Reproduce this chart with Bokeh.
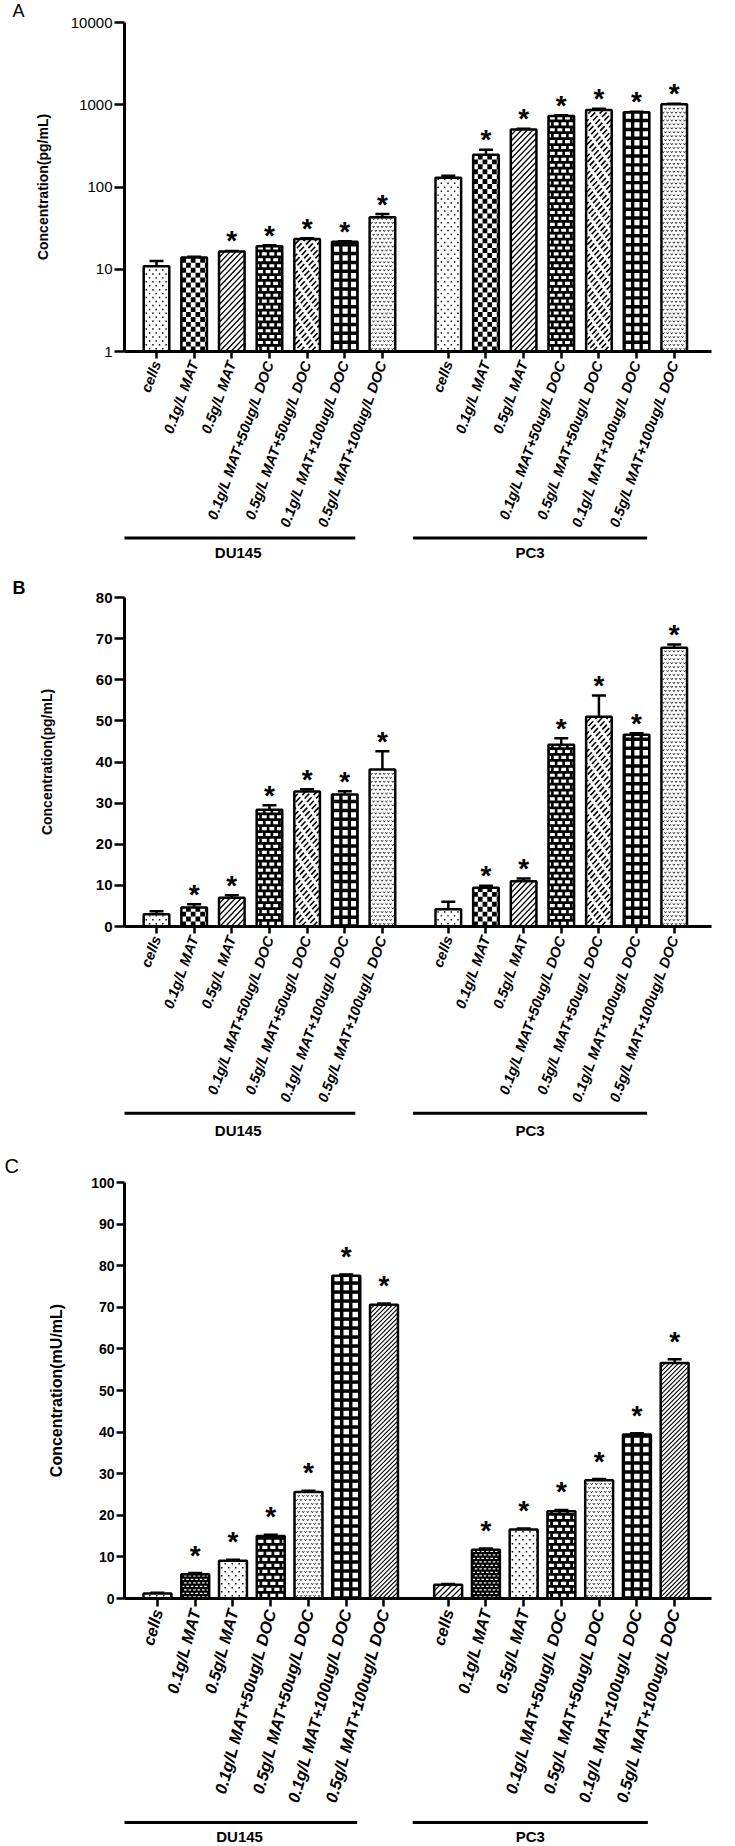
import math
from bokeh.plotting import figure
from bokeh.models import (ColumnDataSource, Range1d, FixedTicker, PrintfTickFormatter,
                          Whisker, TeeHead, Title)
from bokeh.layouts import column
from bokeh.embed import file_html
from bokeh.resources import INLINE
from bokeh.core.properties import value

# ---------------- data ----------------
treatments = ["cells", "0.1g/L MAT", "0.5g/L MAT", "0.1g/L MAT+50ug/L DOC",
              "0.5g/L MAT+50ug/L DOC", "0.1g/L MAT+100ug/L DOC", "0.5g/L MAT+100ug/L DOC"]
cell_lines = ["DU145", "PC3"]

a_du145 = [10.9, 13.9, 16.4, 19.1, 23.3, 21.6, 42.8]
a_du145_err = [1.7, 0.3, 0.3, 0.5, 0.6, 0.3, 4.0]
a_pc3 = [130, 246, 501, 731, 863, 809, 1012]
a_pc3_err = [7, 37, 8, 15, 30, 15, 15]
a_du145_sig = [False, False, True, True, True, True, True]
a_pc3_sig = [False, True, True, True, True, True, True]

b_du145 = [3.0, 4.6, 7.0, 28.4, 32.8, 32.1, 38.2]
b_du145_err = [0.7, 0.8, 0.6, 1.1, 0.6, 0.8, 4.4]
b_pc3 = [4.2, 9.4, 11.0, 44.2, 51.0, 46.6, 67.8]
b_pc3_err = [1.8, 0.5, 0.7, 1.6, 5.2, 0.4, 0.8]
b_du145_sig = [False, True, True, True, True, True, True]
b_pc3_sig = [False, True, True, True, True, True, True]

c_du145 = [1.2, 5.8, 9.1, 15.0, 25.6, 77.6, 70.6]
c_du145_err = [0.2, 0.3, 0.2, 0.3, 0.3, 0.3, 0.3]
c_pc3 = [3.3, 11.7, 16.6, 21.0, 28.4, 39.4, 56.6]
c_pc3_err = [0.2, 0.3, 0.2, 0.3, 0.3, 0.3, 0.9]
c_du145_sig = [False, True, True, True, True, True, True]
c_pc3_sig = [False, True, True, True, True, True, True]

a_yticks = [1, 10, 100, 1000, 10000]
b_yticks = [0, 10, 20, 30, 40, 50, 60, 70, 80]
c_yticks = [0, 10, 20, 30, 40, 50, 60, 70, 80, 90, 100]

# ---------------- styles ----------------
AB_PATTERNS = ["dots", "checker", "diag", "brick", "diagdash", "grid", "wavy"]
C_DU_PATTERNS = ["dots", "dashes", "dots", "brick", "wavy", "grid", "diagfine"]
C_PC_PATTERNS = ["diag", "dashes", "dots", "brick", "wavy", "grid", "diagfine"]

FONT = "Liberation Sans"
NARROW = "Liberation Sans Narrow, Liberation Sans"
W = 735


def gen_pattern(kind, L, R, B, T):
    """Fill pattern of one bar, in pixel space of the frame."""
    quads, segs = [], []
    base = "white"

    def q(l, r, b, t, c):
        l, r, b, t = max(l, L), min(r, R), max(b, B), min(t, T)
        if r - l > 0.2 and t - b > 0.2:
            quads.append((l, r, b, t, c))

    def grid_cells(px, py, w, h, x_start, y_start, stagger, c):
        j, y = 0, y_start
        while y < T:
            x = x_start + (j % 2) * stagger
            while x < R:
                q(x, x + w, y, y + h, c)
                x += px
            y += py
            j += 1

    if kind == "dots":
        grid_cells(7, 4, 1.5, 1.5, L + 2 - 3.5, B + 2, 3.5, "black")
    elif kind == "checker":
        grid_cells(10, 5, 5, 5, L, B, 5, "black")
    elif kind == "brick":
        base = "black"
        grid_cells(8, 6, 5.2, 3.2, L + 1.5 - 4, B + 1.5, 4, "white")
    elif kind == "grid":
        base = "black"
        grid_cells(9, 9, 5.5, 5.5, L + 2.2, B + 2.2, 0, "white")
    elif kind == "dashes":
        base = "black"
        grid_cells(4.5, 3.5, 2.6, 1.3, L + 0.5 - 2.2, B + 1, 2.2, "white")
    elif kind in ("diag", "diagfine", "diagdash"):
        sp, w = {"diag": (6, 1.3), "diagfine": (4.5, 1.1), "diagdash": (6, 1.6)}[kind]
        c = L - (T - B)
        n = 0
        while c < R:
            lo, hi = max(0.0, L - c), min(T - B, R - c)
            if hi > lo:
                if kind == "diagdash":
                    per, on = 7.0, 4.8
                    ph = (n % 2) * per / 2
                    k = math.floor((lo - ph) / per)
                    while k * per + ph < hi:
                        a = max(lo, k * per + ph)
                        b = min(hi, k * per + ph + on)
                        if b > a:
                            segs.append((c + a, B + a, c + b, B + b, w))
                        k += 1
                else:
                    segs.append((c + lo, B + lo, c + hi, B + hi, w))
            c += sp
            n += 1
    elif kind == "wavy":
        dx, dy = 4.5, 4.0
        j, y = 0, B + 2.5
        while y < T - 1:
            x = L + 2 + (j % 2) * dx / 2
            while x < R - 1:
                segs.append((x - 1.1, y + 0.9, x, y - 0.7, 0.8))
                segs.append((x, y - 0.7, x + 1.1, y + 0.9, 0.8))
                x += dx
            y += dy
            j += 1
    return base, quads, segs


def bare(fig):
    fig.outline_line_color = None
    fig.xgrid.grid_line_color = None
    fig.ygrid.grid_line_color = None
    fig.background_fill_color = "white"
    fig.border_fill_color = "white"


def panel(letter, letter_style, du, du_err, du_sig, pc, pc_err, pc_sig, pats_du, pats_pc,
          y_type, y_rng, yticks, ytitle, cfg):
    gap = cfg["gap"]
    xs = [i for i in range(len(du))] + [i + len(du) + gap for i in range(len(pc))]
    vals = du + pc
    errs = du_err + pc_err
    sig = du_sig + pc_sig
    pats = pats_du + pats_pc

    # pixel <-> data mappings of the frame
    fw = W - cfg["lb"] - cfg["rb"]
    fh = cfg["fh"]
    ppu = fw / (cfg["x1"] - cfg["x0"])
    if y_type == "log":
        l0, l1 = math.log10(y_rng[0]), math.log10(y_rng[1])
        to_py = lambda v: (math.log10(v) - l0) / (l1 - l0) * fh
        from_py = lambda py: 10 ** (l0 + py / fh * (l1 - l0))
    else:
        to_py = lambda v: (v - y_rng[0]) / (y_rng[1] - y_rng[0]) * fh
        from_py = lambda py: y_rng[0] + py / fh * (y_rng[1] - y_rng[0])
    to_px = lambda x: (x - cfg["x0"]) * ppu
    from_px = lambda px: cfg["x0"] + px / ppu

    half = cfg["bw"] * ppu / 2
    bases = []
    Q = dict(left=[], right=[], bottom=[], top=[], c=[])
    S = dict(x0=[], y0=[], x1=[], y1=[], w=[])
    for xc, v, k in zip(xs, vals, pats):
        cx = to_px(xc)
        base, quads, segs = gen_pattern(k, cx - half, cx + half, 0.0, to_py(v))
        bases.append(base)
        for l, r, b, t, c in quads:
            Q["left"].append(from_px(l)); Q["right"].append(from_px(r))
            Q["bottom"].append(from_py(b)); Q["top"].append(from_py(t)); Q["c"].append(c)
        for x0, y0, x1, y1, w in segs:
            S["x0"].append(from_px(x0)); S["x1"].append(from_px(x1))
            S["y0"].append(from_py(y0)); S["y1"].append(from_py(y1)); S["w"].append(w)

    src = ColumnDataSource(dict(
        x=xs, top=vals, upper=[v + e for v, e in zip(vals, errs)], base=bases))

    H = cfg["tb"] + fh + cfg["bb"]
    title = Title(text=letter, align="left", vertical_align=cfg["t_valign"],
                  offset=cfg["t_offset"] - cfg["lb"], standoff=cfg["t_standoff"],
                  text_font=FONT, text_font_size=cfg["letter_fs"],
                  text_font_style=letter_style, text_color="black")
    p = figure(width=W, height=H, y_axis_type=y_type, title=title,
               x_range=Range1d(cfg["x0"], cfg["x1"]), y_range=Range1d(*y_rng),
               min_border_left=cfg["lb"], min_border_right=cfg["rb"],
               min_border_top=cfg["tb"], min_border_bottom=cfg["bb"],
               toolbar_location=None, output_backend="svg")
    bare(p)

    bottom = y_rng[0]
    p.vbar(x="x", top="top", bottom=bottom, width=cfg["bw"], source=src,
           fill_color="base", line_color=None)
    p.quad(left="left", right="right", bottom="bottom", top="top", source=ColumnDataSource(Q),
           fill_color="c", line_color=None)
    p.segment(x0="x0", y0="y0", x1="x1", y1="y1", line_width="w", line_color="black",
              source=ColumnDataSource(S))
    p.vbar(x="x", top="top", bottom=bottom, width=cfg["bw"], source=src,
           fill_color=None, line_color="black", line_width=2.5)
    p.add_layout(Whisker(source=src, base="x", upper="upper", lower="top",
                         dimension="height", line_width=2.5, line_color="black",
                         upper_head=TeeHead(size=14, line_width=2.5, line_color="black"),
                         lower_head=None))
    star_src = ColumnDataSource(dict(
        x=[x for x, s in zip(xs, sig) if s],
        y=[u for u, s in zip(src.data["upper"], sig) if s],
        t=["*" for s in sig if s]))
    p.text(x="x", y="y", text="t", source=star_src, text_font=value(FONT),
           text_font_style="bold", text_font_size="28px", text_align="center",
           text_baseline="alphabetic", y_offset=cfg["star_off"], text_color="black")

    # axes
    xa = p.xaxis[0]
    xa.ticker = FixedTicker(ticks=xs)
    xa.major_label_overrides = {x: t for x, t in zip(xs, treatments + treatments)}
    xa.major_label_orientation = cfg["angle"]
    xa.major_label_text_font = FONT
    xa.major_label_text_font_style = "bold italic"
    xa.major_label_text_font_size = cfg["xfs"]
    xa.major_label_standoff = 3
    xa.major_tick_out = cfg["xtick"]
    xa.major_tick_in = 0
    xa.minor_tick_line_color = None
    ya = p.yaxis[0]
    ya.ticker = FixedTicker(ticks=yticks)
    ya.formatter = PrintfTickFormatter(format="%d")
    ya.major_label_text_font = cfg["yfont"]
    ya.major_label_text_font_style = cfg["ystyle"]
    ya.major_label_text_font_size = cfg["yfs"]
    ya.major_label_standoff = 2
    ya.major_tick_out = cfg["ytick"]
    ya.major_tick_in = 0
    ya.minor_tick_line_color = None
    ya.axis_label = ytitle
    ya.axis_label_text_font = FONT
    ya.axis_label_text_font_style = "bold"
    ya.axis_label_text_font_size = cfg["tfs"]
    ya.axis_label_standoff = cfg["tstand"]
    for ax in (xa, ya):
        ax.axis_line_width = 3
        ax.major_tick_line_width = 2.5
        ax.axis_line_color = "black"
        ax.major_tick_line_color = "black"
        ax.major_label_text_color = "black"
        ax.axis_label_text_color = "black"

    # group strip
    sh = cfg["sh"]
    s = figure(width=W, height=sh, x_range=p.x_range, y_range=Range1d(0, sh),
               min_border_left=cfg["lb"], min_border_right=cfg["rb"],
               min_border_top=0, min_border_bottom=0,
               x_axis_location=None, y_axis_location=None,
               toolbar_location=None, output_backend="svg")
    bare(s)
    n = len(du)
    firsts = [xs[0], xs[n]]
    lasts = [xs[n - 1], xs[-1]]
    x0s = [f + cfg["gl0"] for f in firsts]
    x1s = [l + cfg["gl1"] for l in lasts]
    s.segment(x0=x0s, x1=x1s, y0=[sh - cfg["ly_line"]] * 2, y1=[sh - cfg["ly_line"]] * 2,
              line_width=3, line_color="black")
    s.text(x=[(a + b) / 2 for a, b in zip(x0s, x1s)], y=[sh - cfg["ly_text"]] * 2,
           text=cell_lines, text_font=value(FONT), text_font_style="bold",
           text_font_size="15px", text_align="center", text_baseline="middle",
           text_color="black")
    return [p, s]


cfg_a = dict(gap=0.75, x0=-0.85, x1=14.74, lb=112, rb=1, tb=21, fh=334, bb=180, bw=0.68,
             star_off=-10, angle=1.22, xfs="14.5px", xtick=7, yfont=FONT, ystyle="normal",
             yfs="15px", ytick=10, tfs="14px", tstand=17, letter_fs="18px", t_standoff=0,
             t_offset=0, t_valign="top", sh=40, gl0=-0.94, gl1=-0.72, ly_line=2.5,
             ly_text=17)
cfg_b = dict(cfg_a, tb=22, fh=333, ystyle="bold", tstand=38, ly_line=2.7, ly_text=20,
             letter_fs="18px", t_standoff=0, t_valign="bottom")
cfg_c = dict(gap=0.7, x0=-0.874, x1=14.676, lb=124, rb=24, tb=32, fh=416, bb=214, bw=0.74,
             star_off=-18, angle=1.30, xfs="16.5px", xtick=8, yfont=NARROW, ystyle="bold",
             yfs="14px", ytick=8, tfs="16px", tstand=23, letter_fs="20px", t_standoff=8,
             t_offset=4, t_valign="top", sh=34, gl0=-0.94, gl1=-0.71, ly_line=10,
             ly_text=24)

rows = []
rows += panel("A", "normal", a_du145, a_du145_err, a_du145_sig, a_pc3, a_pc3_err, a_pc3_sig,
              AB_PATTERNS, AB_PATTERNS, "log", (1, 10000), a_yticks,
              "Concentration(pg/mL)", cfg_a)
rows += panel("B", "bold", b_du145, b_du145_err, b_du145_sig, b_pc3, b_pc3_err, b_pc3_sig,
              AB_PATTERNS, AB_PATTERNS, "linear", (0, 80), b_yticks,
              "Concentration(pg/mL)", cfg_b)
rows += panel("C", "normal", c_du145, c_du145_err, c_du145_sig, c_pc3, c_pc3_err, c_pc3_sig,
              C_DU_PATTERNS, C_PC_PATTERNS, "linear", (0, 100), c_yticks,
              "Concentration(mU/mL)", cfg_c)

layout = column(*rows, spacing=0)
open("out.html", "w").write(file_html(layout, INLINE))
